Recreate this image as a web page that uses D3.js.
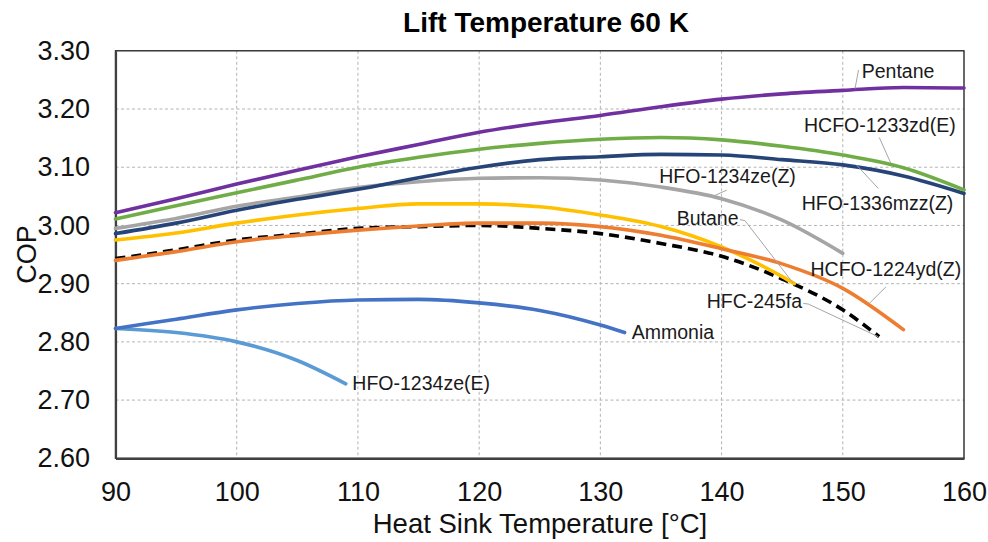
<!DOCTYPE html>
<html>
<head>
<meta charset="utf-8">
<script src="https://cdn.jsdelivr.net/npm/d3@7"></script>
<style>
  html, body { margin: 0; padding: 0; background: #ffffff; }
  svg { display: block; font-family: "Liberation Sans", Arial, "DejaVu Sans", sans-serif; }
</style>
</head>
<body>
<svg id="chart" width="988" height="542"></svg>
<script>
// ---------------- DATA ----------------
const chartTitle = "Lift Temperature 60 K";
const xTitle = "Heat Sink Temperature [°C]";
const yTitle = "COP";
const xTicks = [90, 100, 110, 120, 130, 140, 150, 160];
const yTicks = [2.60, 2.70, 2.80, 2.90, 3.00, 3.10, 3.20, 3.30];

const tPentane = [90, 95, 100, 105, 110, 115, 120, 125, 130, 135, 140, 145, 150, 155, 160];
const copPentane = [3.022, 3.046, 3.071, 3.095, 3.118, 3.139, 3.160, 3.176, 3.189, 3.204, 3.217, 3.226, 3.232, 3.237, 3.236];

const tR1233zdE = [90, 95, 100, 105, 110, 115, 120, 125, 130, 135, 140, 145, 150, 155, 160];
const copR1233zdE = [3.011, 3.034, 3.056, 3.078, 3.100, 3.117, 3.131, 3.141, 3.148, 3.151, 3.147, 3.136, 3.121, 3.099, 3.061];

const tR1336mzzZ = [90, 95, 100, 105, 110, 115, 120, 125, 130, 135, 140, 145, 150, 155, 160];
const copR1336mzzZ = [2.986, 3.004, 3.026, 3.045, 3.062, 3.082, 3.100, 3.113, 3.118, 3.122, 3.121, 3.113, 3.104, 3.085, 3.055];

const tR1234zeZ = [90, 95, 100, 105, 110, 115, 120, 125, 130, 135, 140, 145, 150];
const copR1234zeZ = [2.995, 3.012, 3.033, 3.049, 3.065, 3.075, 3.081, 3.082, 3.078, 3.066, 3.046, 3.009, 2.952];

const tButane = [90, 95, 100, 105, 110, 115, 120, 125, 130, 135, 140, 145, 146];
const copButane = [2.975, 2.987, 3.004, 3.018, 3.029, 3.037, 3.037, 3.032, 3.018, 2.998, 2.963, 2.912, 2.900];

const tR1224ydZ = [90, 95, 100, 105, 110, 115, 120, 125, 130, 135, 140, 145, 150, 155];
const copR1224ydZ = [2.940, 2.955, 2.972, 2.983, 2.992, 2.999, 3.004, 3.004, 2.998, 2.983, 2.960, 2.934, 2.892, 2.821];

const tR245fa = [90, 95, 100, 105, 110, 115, 120, 125, 130, 135, 140, 145, 150, 153];
const copR245fa = [2.943, 2.958, 2.975, 2.985, 2.995, 2.998, 3.000, 2.995, 2.986, 2.969, 2.947, 2.908, 2.855, 2.809];

const tAmmonia = [90, 95, 100, 105, 110, 115, 120, 125, 130, 132];
const copAmmonia = [2.823, 2.839, 2.855, 2.866, 2.872, 2.873, 2.867, 2.854, 2.829, 2.816];

const tR1234zeE = [90, 95, 100, 105, 109];
const copR1234zeE = [2.823, 2.816, 2.800, 2.768, 2.728];

// label anchors in data units: [t, cop]; leader paths in data units
const labelNames = ["Pentane", "HCFO-1233zd(E)", "HFO-1336mzz(Z)", "HFO-1234ze(Z)", "Butane",
                    "HCFO-1224yd(Z)", "HFC-245fa", "Ammonia", "HFO-1234ze(E)"];
const labelAnchors = [[151.56, 3.254], [146.80, 3.1607], [146.61, 3.0271], [134.86, 3.0721], [136.30, 3.0005],
                      [147.34, 2.9124], [138.77, 2.8575], [132.59, 2.8043], [109.54, 2.7173]];
const leaderPaths = [
  [[151.30, 3.267], [151.01, 3.235]],
  [[153.01, 3.1511], [153.95, 3.1075]],
  [[151.15, 3.1035], [152.93, 3.0635]],
  [[140.42, 3.0606], [139.19, 3.0491]],
  [[141.52, 3.0100], [141.93, 3.0083], [145.92, 2.9004]],
  [[153.57, 2.8946], [152.19, 2.8661]],
  [[146.74, 2.8661], [147.16, 2.8649], [152.93, 2.8088]],
  null,
  null
];

// ---------------- SERIES TABLE ----------------
const seriesStyle = {
  "HFO-1234ze(E)": { color: "#5B9BD5", dash: null },
  "Ammonia": { color: "#4472C4", dash: null },
  "HFC-245fa": { color: "#000000", dash: "10,6" },
  "Butane": { color: "#FFC000", dash: null },
  "HCFO-1224yd(Z)": { color: "#ED7D31", dash: null },
  "HFO-1234ze(Z)": { color: "#A5A5A5", dash: null },
  "HFO-1336mzz(Z)": { color: "#264478", dash: null },
  "HCFO-1233zd(E)": { color: "#70AD47", dash: null },
  "Pentane": { color: "#7030A0", dash: null }
};
const seriesTable = [
  ["HFO-1234ze(E)", tR1234zeE, copR1234zeE],
  ["Ammonia", tAmmonia, copAmmonia],
  ["HFC-245fa", tR245fa, copR245fa],
  ["Butane", tButane, copButane],
  ["HCFO-1224yd(Z)", tR1224ydZ, copR1224ydZ],
  ["HFO-1234ze(Z)", tR1234zeZ, copR1234zeZ],
  ["HFO-1336mzz(Z)", tR1336mzzZ, copR1336mzzZ],
  ["HCFO-1233zd(E)", tR1233zdE, copR1233zdE],
  ["Pentane", tPentane, copPentane]
].map(([name, ts, vs]) => ({ name, points: ts.map((t, i) => [t, vs[i]]) }));

// ---------------- DRAW ----------------
const svg = d3.select("#chart");
const plot = { left: 115.5, right: 964, top: 50.8, bottom: 458.3 };

const x = d3.scaleLinear().domain([90, 160]).range([plot.left, plot.right]);
const y = d3.scaleLinear().domain([2.6, 3.3]).range([plot.bottom, plot.top]);

// grid
const grid = svg.append("g");
grid.selectAll("line.gx").data(xTicks.slice(1, -1)).join("line")
  .attr("x1", d => x(d)).attr("x2", d => x(d))
  .attr("y1", plot.top).attr("y2", plot.bottom)
  .attr("stroke", "#b4b4b4").attr("stroke-width", 1).attr("stroke-dasharray", "3,2.5");
grid.selectAll("line.gy").data(yTicks.slice(1, -1)).join("line")
  .attr("x1", plot.left).attr("x2", plot.right)
  .attr("y1", d => y(d)).attr("y2", d => y(d))
  .attr("stroke", "#b4b4b4").attr("stroke-width", 1).attr("stroke-dasharray", "3,2.5");

// frame
svg.append("rect")
  .attr("x", plot.left).attr("y", plot.top)
  .attr("width", plot.right - plot.left).attr("height", plot.bottom - plot.top)
  .attr("fill", "none").attr("stroke", "#1a1a1a").attr("stroke-width", 1.3);

// axes
const xAxis = d3.axisBottom(x).tickValues(xTicks).tickSize(0).tickPadding(24).tickFormat(d3.format("d"));
const gx = svg.append("g").attr("transform", `translate(0,${plot.bottom})`).call(xAxis);
gx.select(".domain").attr("stroke", "#404040").attr("stroke-width", 2.2);
gx.selectAll("text").attr("font-size", 27).attr("fill", "#111").attr("font-family", "'Liberation Sans', Arial, sans-serif");

const yAxis = d3.axisLeft(y).tickValues(yTicks).tickSize(0).tickPadding(25.5).tickFormat(d3.format(".2f"));
const gy = svg.append("g").attr("transform", `translate(${plot.left},0)`).call(yAxis);
gy.select(".domain").attr("stroke", "#404040").attr("stroke-width", 2.2);
gy.selectAll("text").attr("font-size", 27).attr("fill", "#111").attr("font-family", "'Liberation Sans', Arial, sans-serif");

// lines
const line = d3.line().x(d => x(d[0])).y(d => y(d[1])).curve(d3.curveMonotoneX);
svg.append("g").selectAll("path").data(seriesTable).join("path")
  .attr("d", d => line(d.points))
  .attr("fill", "none")
  .attr("stroke", d => seriesStyle[d.name].color)
  .attr("stroke-width", 3.6)
  .attr("stroke-linejoin", "round")
  .attr("stroke-linecap", d => seriesStyle[d.name].dash ? "butt" : "round")
  .attr("stroke-dasharray", d => seriesStyle[d.name].dash);

// leader lines
const leader = d3.line().x(d => x(d[0])).y(d => y(d[1]));
svg.append("g").selectAll("path").data(leaderPaths.filter(p => p)).join("path")
  .attr("d", d => leader(d))
  .attr("fill", "none").attr("stroke", "#a6a6a6").attr("stroke-width", 1);

// labels
svg.append("g").selectAll("text").data(labelNames).join("text")
  .attr("x", (d, i) => x(labelAnchors[i][0]))
  .attr("y", (d, i) => y(labelAnchors[i][1]))
  .attr("font-size", 19.5).attr("fill", "#1a1a1a")
  .text(d => d);

// titles
svg.append("text").attr("x", 546).attr("y", 32).attr("text-anchor", "middle")
  .attr("font-size", 28).attr("font-weight", "bold").attr("fill", "#000").text(chartTitle);
svg.append("text").attr("x", 540).attr("y", 533).attr("text-anchor", "middle")
  .attr("font-size", 27.5).attr("fill", "#111").text(xTitle);
svg.append("text").attr("transform", `translate(36,${(plot.top + plot.bottom) / 2}) rotate(-90)`)
  .attr("text-anchor", "middle").attr("font-size", 27).attr("fill", "#111").text(yTitle);
</script>
</body>
</html>
